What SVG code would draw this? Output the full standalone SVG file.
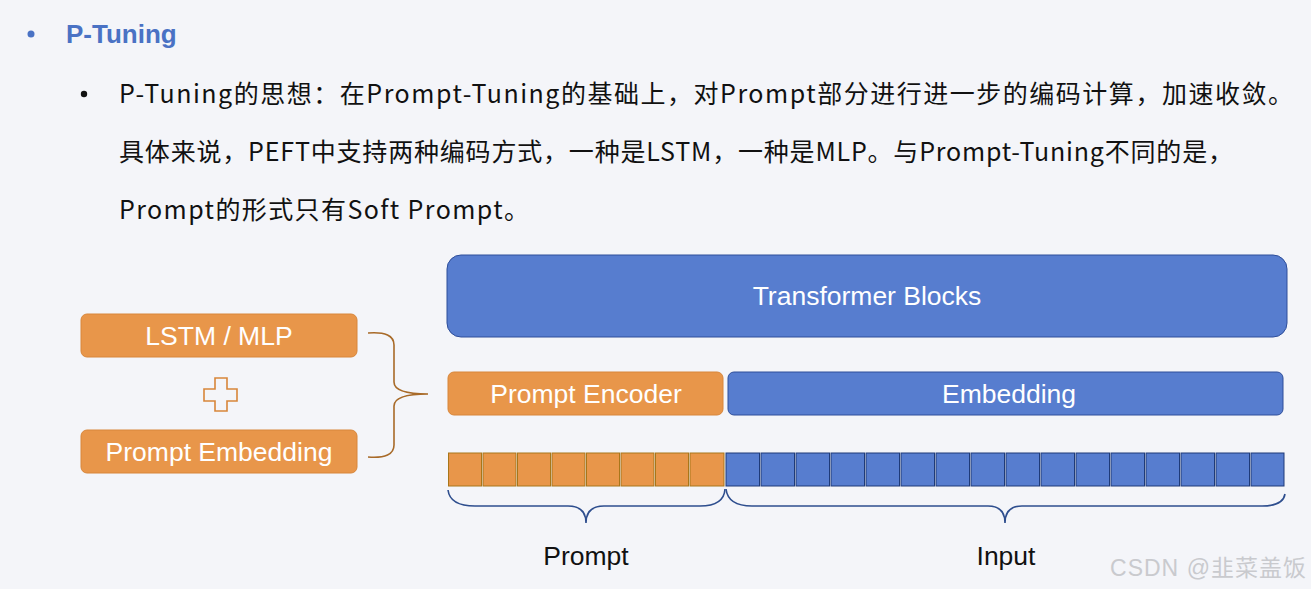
<svg xmlns="http://www.w3.org/2000/svg" width="1311" height="589" viewBox="0 0 1311 589">
<style>
.bg{fill:#F4F5F9}
.or{fill:#E8964A;stroke:#D8863A;stroke-width:1}
.bl{fill:#577DCF;stroke:#2E4E9A;stroke-width:1}
.lbl{font-family:"Liberation Sans",Arial,sans-serif;font-size:26.5px;fill:#FFFFFF;text-anchor:middle;dominant-baseline:central}
.cap{font-family:"Liberation Sans",Arial,sans-serif;font-size:26.5px;fill:#111111;text-anchor:middle;dominant-baseline:central}
.zh{font-family:"Noto Sans CJK SC","Noto Sans",sans-serif;font-size:25px;fill:#111111}
.sqo{fill:#E8964A;stroke:#A8761A;stroke-width:1}
.sqb{fill:#577DCF;stroke:#1E3A78;stroke-width:1}
.brb{fill:none;stroke:#2E4E8E;stroke-width:1.6}
.bro{fill:none;stroke:#A86A28;stroke-width:1.6}
</style>
<rect class="bg" x="0" y="0" width="1311" height="589"/>

<g id="title">
<circle cx="31" cy="34" r="3.5" fill="#4A72C4"/>
<text x="66" y="43" font-family="Liberation Sans,Arial,sans-serif" font-size="26" font-weight="bold" fill="#4A72C4">P-Tuning</text>
</g>

<g id="description">
<circle cx="84" cy="94" r="3.2" fill="#111111"/>
<text class="zh" x="119" y="103" textLength="1174" lengthAdjust="spacing">P-Tuning的思想：在Prompt-Tuning的基础上，对Prompt部分进行进一步的编码计算，加速收敛。</text>
<text class="zh" x="119" y="161" textLength="1114" lengthAdjust="spacing">具体来说，PEFT中支持两种编码方式，一种是LSTM，一种是MLP。与Prompt-Tuning不同的是，</text>
<text class="zh" x="119" y="219" textLength="410" lengthAdjust="spacing">Prompt的形式只有Soft Prompt。</text>
</g>

<g id="lstm-mlp">
<rect class="or" x="81" y="314" width="276" height="43" rx="6"/>
<text class="lbl" x="219" y="336">LSTM / MLP</text>
</g>

<g id="plus">
<path d="M215,378 H227 V389 H237 V401 H227 V411 H215 V401 H204 V389 H215 Z" fill="none" stroke="#D8863A" stroke-width="1.6"/>
</g>

<g id="prompt-embedding">
<rect class="or" x="81" y="430" width="276" height="43" rx="6"/>
<text class="lbl" x="219" y="452">Prompt Embedding</text>
</g>

<g id="transformer-blocks">
<rect class="bl" x="447" y="255" width="840" height="82" rx="14"/>
<text class="lbl" x="867" y="296">Transformer Blocks</text>
</g>

<g id="prompt-encoder">
<rect class="or" x="448" y="372" width="275" height="43" rx="6"/>
<text class="lbl" x="586" y="394">Prompt Encoder</text>
</g>

<g id="embedding">
<rect class="bl" x="728" y="372" width="555" height="43" rx="6"/>
<text class="lbl" x="1009" y="394">Embedding</text>
</g>

<g id="prompt-tokens">
<rect class="sqo" x="448.5" y="453" width="33" height="33"/>
<rect class="sqo" x="483" y="453" width="33" height="33"/>
<rect class="sqo" x="517.5" y="453" width="33" height="33"/>
<rect class="sqo" x="552" y="453" width="33" height="33"/>
<rect class="sqo" x="586.5" y="453" width="33" height="33"/>
<rect class="sqo" x="621" y="453" width="33" height="33"/>
<rect class="sqo" x="655.5" y="453" width="33" height="33"/>
<rect class="sqo" x="690" y="453" width="34" height="33"/>
</g>

<g id="input-tokens">
<rect class="sqb" x="726" y="453" width="33.5" height="33"/>
<rect class="sqb" x="761" y="453" width="33.5" height="33"/>
<rect class="sqb" x="796" y="453" width="33.5" height="33"/>
<rect class="sqb" x="831" y="453" width="33.5" height="33"/>
<rect class="sqb" x="866" y="453" width="33.5" height="33"/>
<rect class="sqb" x="901" y="453" width="33.5" height="33"/>
<rect class="sqb" x="936" y="453" width="33.5" height="33"/>
<rect class="sqb" x="971" y="453" width="33.5" height="33"/>
<rect class="sqb" x="1006" y="453" width="33.5" height="33"/>
<rect class="sqb" x="1041" y="453" width="33.5" height="33"/>
<rect class="sqb" x="1076" y="453" width="33.5" height="33"/>
<rect class="sqb" x="1111" y="453" width="33.5" height="33"/>
<rect class="sqb" x="1146" y="453" width="33.5" height="33"/>
<rect class="sqb" x="1181" y="453" width="33.5" height="33"/>
<rect class="sqb" x="1216" y="453" width="33.5" height="33"/>
<rect class="sqb" x="1251" y="453" width="33" height="33"/>
</g>

<g id="connectors">
<path class="bro" d="M368,333 Q394,331 394,345 L394,382 Q394,394 428,394 Q394,394 394,406 L394,445 Q394,459 368,457"/>
<path class="brb" d="M448,490 Q450,506 475,506 L568,506 Q586,506 586,523 Q586,506 604,506 L700,506 Q724,506 725,489"/>
<path class="brb" d="M726,489 Q728,506 752,506 L988,506 Q1005,506 1005,523 Q1005,506 1022,506 L1262,506 Q1283,506 1285,494"/>
</g>

<g id="labels">
<text class="cap" x="586" y="556">Prompt</text>
<text class="cap" x="1006" y="556">Input</text>
</g>

<g id="watermark">
<text x="1110" y="576" font-family="Liberation Sans,'Noto Sans CJK SC',sans-serif" font-size="23" fill="#C9CACE" textLength="196" lengthAdjust="spacing">CSDN @韭菜盖饭</text>
</g>
</svg>
